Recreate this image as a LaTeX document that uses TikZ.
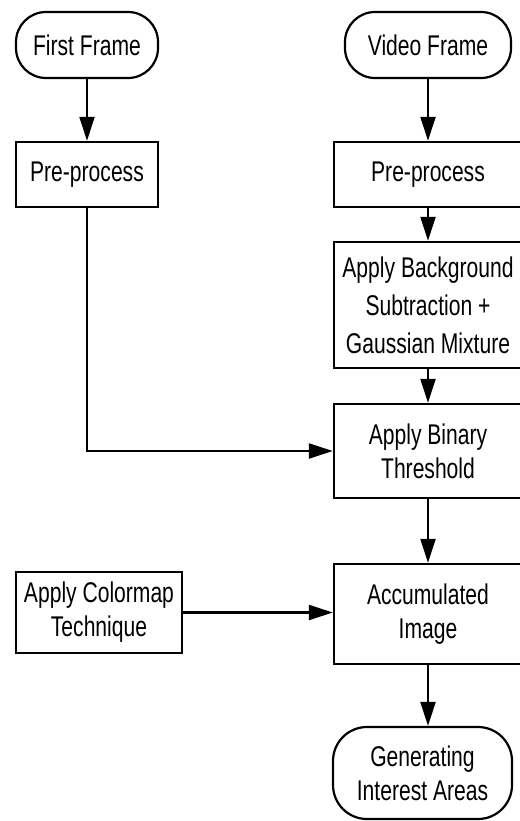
\documentclass[tikz,border=0pt]{standalone}
\usepackage{fontspec}
\setmainfont{Liberation Sans}[FakeStretch=0.74]
\usetikzlibrary{arrows.meta}
\begin{document}
\begin{tikzpicture}[x=1pt,y=-1pt,
  every node/.style={font=\fontsize{28.5}{34}\selectfont, align=center, inner sep=0pt},
  procbox/.style={draw, line width=2.4pt, fill=white},
  termbox/.style={draw, line width=2.2pt, fill=white, rounded corners=30pt},
  flow/.style={line width=2.2pt, -{Triangle[length=24pt,width=15pt]}}]
\useasboundingbox (0,0) rectangle (519,821);
\node[termbox, minimum width=142pt, minimum height=66pt] (ff) at (87,45) {First Frame};
\node[procbox, minimum width=142pt, minimum height=65pt] (pp1) at (87,174.5) {Pre-process};
\node[termbox, minimum width=166pt, minimum height=66pt] (vf) at (428,45) {Video Frame};
\node[procbox, minimum width=188pt, minimum height=65pt] (pp2) at (428,174.5) {Pre-process};
\node[procbox, minimum width=188pt, minimum height=126pt, font=\fontsize{28.5}{38}\selectfont] (bg) at (428,305) {Apply Background\\Subtraction +\\Gaussian Mixture};
\node[procbox, minimum width=188pt, minimum height=94pt] (bt) at (428,451) {Apply Binary\\Threshold};
\node[procbox, minimum width=166pt, minimum height=81pt] (cm) at (99,612.5) {Apply Colormap\\Technique};
\node[procbox, minimum width=188pt, minimum height=100pt] (acc) at (428,614) {Accumulated\\Image};
\node[termbox, minimum width=179pt, minimum height=92pt, rounded corners=34pt] (gen) at (422.5,773) {Generating\\Interest Areas};
\draw[flow] (ff) -- (pp1);
\draw[flow] (vf) -- (pp2);
\draw[flow] (pp2) -- (bg);
\draw[flow] (bg) -- (bt);
\draw[flow] (pp1.south) |- (bt.west);
\draw[flow] (bt) -- (acc);
\draw[flow] (cm.east) -- (cm.east -| acc.west);
\draw[flow] (acc.south) -- (acc.south |- gen.north);
\end{tikzpicture}
\end{document}
